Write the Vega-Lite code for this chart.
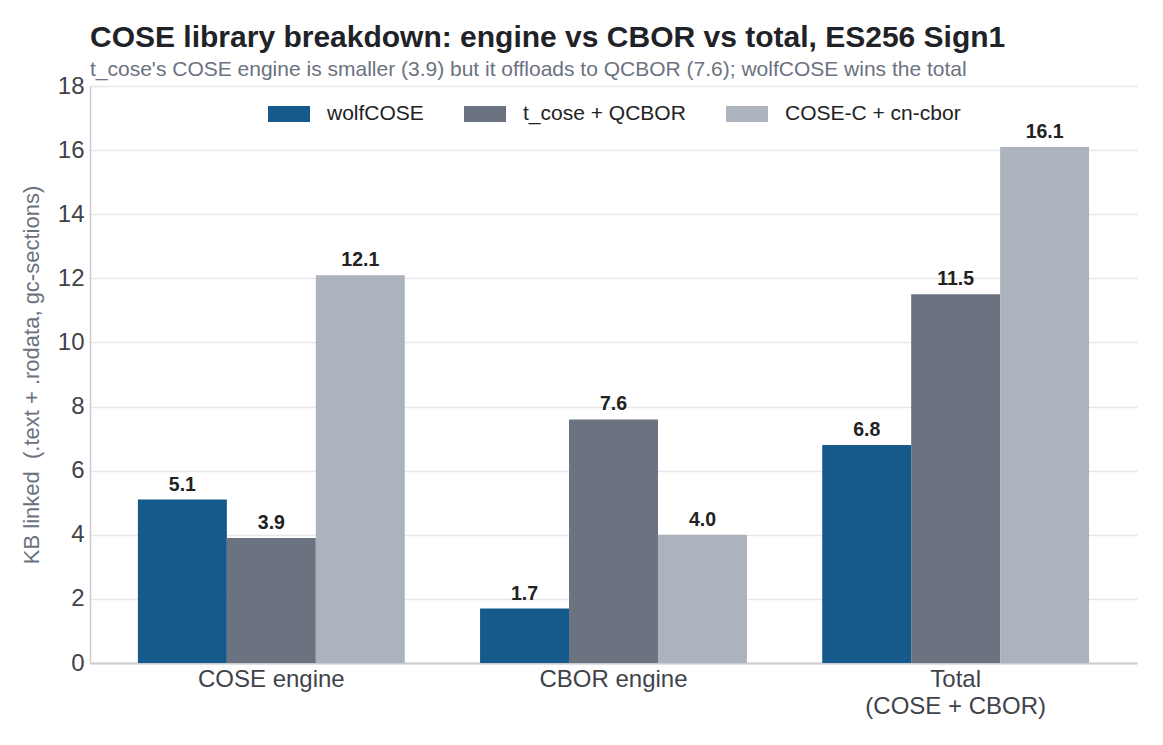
{
  "$schema": "https://vega.github.io/schema/vega-lite/v6.json",
  "width": 1047,
  "height": 577,
  "autosize": {"type": "none"},
  "padding": {"left": 90, "top": 86, "right": 26, "bottom": 82},
  "background": "white",
  "config": {
    "font": "Liberation Sans",
    "view": {"stroke": null}
  },
  "title": {
    "text": "COSE library breakdown: engine vs CBOR vs total, ES256 Sign1",
    "subtitle": "t_cose's COSE engine is smaller (3.9) but it offloads to QCBOR (7.6); wolfCOSE wins the total",
    "anchor": "start",
    "frame": "group",
    "fontSize": 30,
    "fontWeight": "bold",
    "color": "#1f2328",
    "subtitleFontSize": 21,
    "subtitleColor": "#6b7280",
    "subtitlePadding": 6,
    "offset": -6
  },
  "data": {
    "values": [
      {"group": "COSE engine", "lib": "wolfCOSE", "kb": 5.1},
      {"group": "COSE engine", "lib": "t_cose + QCBOR", "kb": 3.9},
      {"group": "COSE engine", "lib": "COSE-C + cn-cbor", "kb": 12.1},
      {"group": "CBOR engine", "lib": "wolfCOSE", "kb": 1.7},
      {"group": "CBOR engine", "lib": "t_cose + QCBOR", "kb": 7.6},
      {"group": "CBOR engine", "lib": "COSE-C + cn-cbor", "kb": 4.0},
      {"group": "Total|(COSE + CBOR)", "lib": "wolfCOSE", "kb": 6.8},
      {"group": "Total|(COSE + CBOR)", "lib": "t_cose + QCBOR", "kb": 11.5},
      {"group": "Total|(COSE + CBOR)", "lib": "COSE-C + cn-cbor", "kb": 16.1}
    ]
  },
  "encoding": {
    "x": {
      "field": "group",
      "type": "nominal",
      "sort": null,
      "scale": {"paddingInner": 0.22, "paddingOuter": 0.14},
      "axis": {
        "title": null,
        "labelAngle": 0,
        "labelExpr": "split(datum.label, '|')",
        "labelFontSize": 24,
        "labelLimit": 400,
        "labelColor": "#3f434a",
        "labelPadding": 4,
        "labelLineHeight": 27,
        "ticks": false,
        "domainColor": "#c9ccd1",
        "domainWidth": 2,
        "grid": false
      }
    },
    "xOffset": {"field": "lib", "type": "nominal", "sort": ["wolfCOSE", "t_cose + QCBOR", "COSE-C + cn-cbor"]},
    "y": {
      "field": "kb",
      "type": "quantitative",
      "scale": {"domain": [0, 18], "nice": false},
      "axis": {
        "title": "KB linked \u00a0(.text + .rodata, gc-sections)",
        "titleFontSize": 22,
        "titleFontWeight": "normal",
        "titleColor": "#6b7280",
        "titlePadding": 14,
        "values": [0, 2, 4, 6, 8, 10, 12, 14, 16, 18],
        "labelFontSize": 24,
        "labelColor": "#3f434a",
        "labelPadding": 6,
        "ticks": false,
        "domainColor": "#c9ccd1",
        "domainWidth": 1.5,
        "gridColor": "#e5e7eb",
        "gridWidth": 1.5
      }
    }
  },
  "layer": [
    {
      "mark": {"type": "bar"},
      "encoding": {
        "color": {
          "field": "lib",
          "type": "nominal",
          "sort": ["wolfCOSE", "t_cose + QCBOR", "COSE-C + cn-cbor"],
          "scale": {"domain": ["wolfCOSE", "t_cose + QCBOR", "COSE-C + cn-cbor"], "range": ["#165a8b", "#6b7280", "#adb3bd"]},
          "legend": {
            "title": null,
            "orient": "none",
            "direction": "horizontal",
            "legendX": 178,
            "legendY": 7,
            "symbolType": "M-1,-0.38H1V0.38H-1Z",
            "symbolSize": 1764,
            "symbolStrokeWidth": 0,
            "labelFontSize": 21,
            "labelLimit": 400,
            "labelColor": "#222222",
            "labelOffset": 17,
            "columnPadding": 40
          }
        }
      }
    },
    {
      "mark": {"type": "text", "baseline": "bottom", "dy": -5, "fontSize": 19.5, "fontWeight": "bold", "color": "#222222"},
      "encoding": {
        "text": {"field": "kb", "type": "quantitative", "format": ".1f"}
      }
    }
  ]
}
